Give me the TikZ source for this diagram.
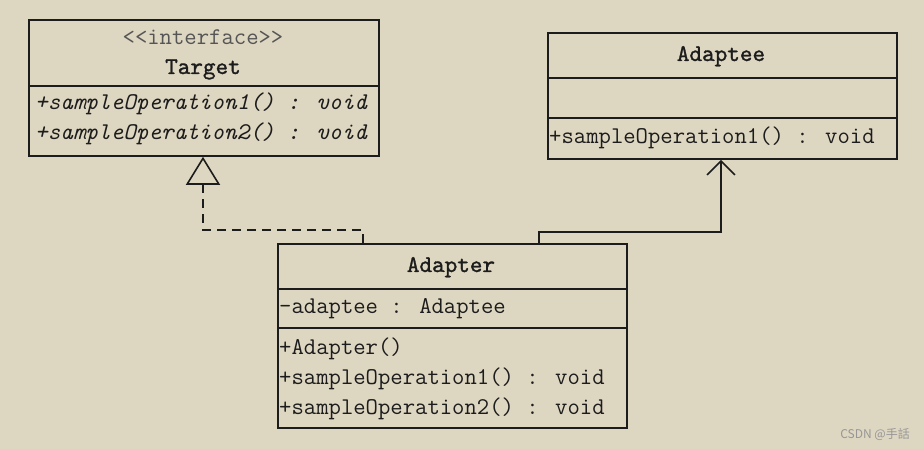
\documentclass[tikz,border=0pt]{standalone}
\usepackage{fontspec}
\newfontfamily\cjk{Noto Sans CJK SC}
\newfontfamily\ttbold{lmmono10-regular.otf}[FakeBold=1.2]
\usetikzlibrary{arrows.meta}
\definecolor{bg}{RGB}{221,214,193}
\definecolor{ink}{RGB}{28,28,28}
\definecolor{soft}{RGB}{85,85,85}
\definecolor{mark}{RGB}{150,150,150}
\begin{document}
\begin{tikzpicture}[x=1pt,y=-1pt,
  cls/.style={draw=ink, line width=1.8pt, rectangle, inner sep=0pt, anchor=north west},
  sep/.style={draw=ink, line width=1.8pt},
  txt/.style={inner sep=0pt, text=ink, font=\fontsize{24}{28}\selectfont\ttfamily},
  itxt/.style={txt, font=\fontsize{24}{28}\selectfont\ttfamily\itshape},
  title/.style={txt, font=\fontsize{24}{28}\selectfont\ttbold},
  conn/.style={draw=ink, line width=1.6pt}]
\fill[bg] (0,0) rectangle (924,449);
\useasboundingbox (0,0) rectangle (924,449);

% Target
\node[cls, minimum width=350pt, minimum height=136pt] (target) at (28,19) {};
\draw[sep] (28,86) -- (378,86);
\node[txt, anchor=base, text=soft] (tst) at (203,45) {<{}<interface>{}>};
\node[title, anchor=base] (tname) at (203,74) {Target};
\node[itxt, anchor=base west] (top1) at (35,110) {+sampleOperation1() : void};
\node[itxt, anchor=base west] (top2) at (35,140) {+sampleOperation2() : void};

% Adaptee
\node[cls, minimum width=349pt, minimum height=126pt] (adaptee) at (547,32) {};
\draw[sep] (547,78) -- (896,78);
\draw[sep] (547,118) -- (896,118);
\node[title, anchor=base] (aname) at (721,61) {Adaptee};
\node[txt, anchor=base west] (aop1) at (549,144) {+sampleOperation1() : void};

% Adapter
\node[cls, minimum width=349pt, minimum height=184pt] (adapter) at (277,243) {};
\draw[sep] (277,289) -- (626,289);
\draw[sep] (277,328) -- (626,328);
\node[title, anchor=base] (rname) at (451,272) {Adapter};
\node[txt, anchor=base west] (rattr) at (279,313) {-adaptee : Adaptee};
\node[txt, anchor=base west] (rctor) at (279,354) {+Adapter()};
\node[txt, anchor=base west] (rop1) at (279,384) {+sampleOperation1() : void};
\node[txt, anchor=base west] (rop2) at (279,414) {+sampleOperation2() : void};

% Realization
\draw[conn, dash pattern=on 9pt off 6pt, -{Triangle[open, length=28pt, width=34pt, line width=1.6pt]}]
  (adapter.north -| 363,0) |- (203,230) -- (target.south -| 203,0);

% Association
\draw[conn, -{Straight Barb[length=14pt, width=28pt, line width=1.6pt]}]
  (adapter.north -| 539,0) |- (721,232) -- (adaptee.south -| 721,0);

% watermark
\node[inner sep=0pt, anchor=base east, text=mark, font=\fontsize{12}{14}\selectfont\cjk] (wm) at (910,438) {CSDN @手話};
\end{tikzpicture}
\end{document}
